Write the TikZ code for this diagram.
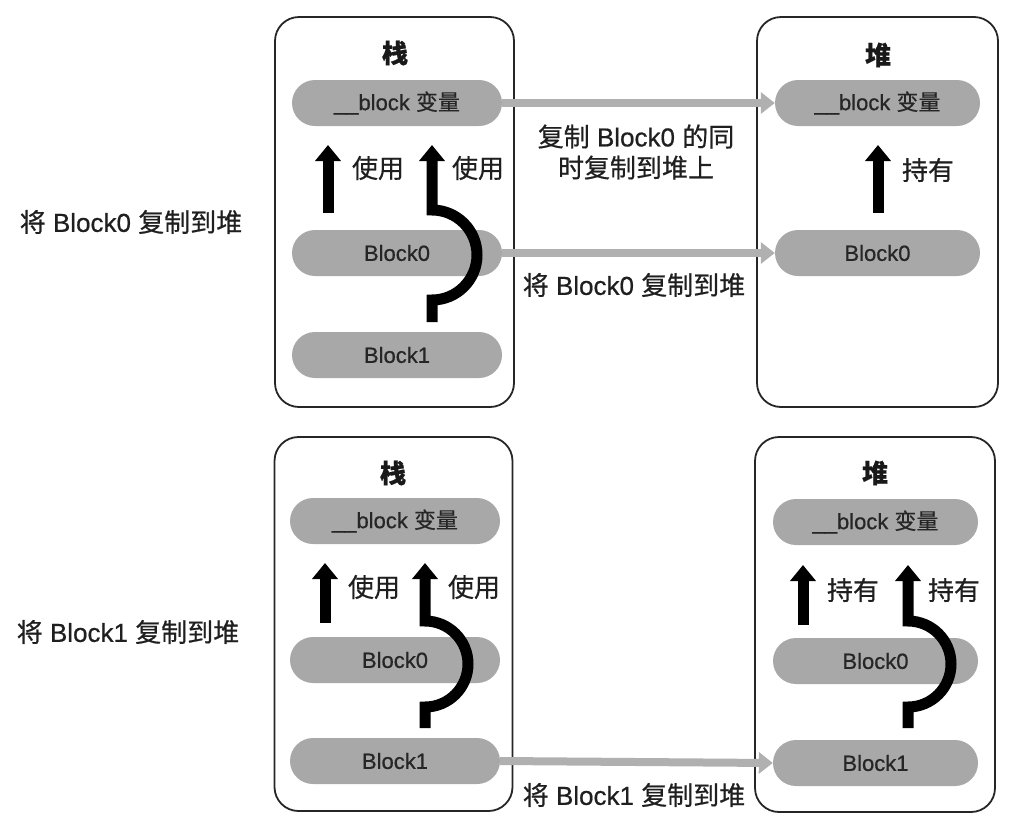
\documentclass[tikz,border=0pt]{standalone}
\usepackage{fontspec}
\setmainfont{Liberation Sans}[FakeBold=0.6]
\newfontfamily\cjk{Noto Sans CJK SC}[FakeBold=0.6]
\usetikzlibrary{arrows.meta}
\newcommand\zh[1]{{\cjk #1}}
\definecolor{pillgray}{RGB}{168,168,168}
\definecolor{arrowgray}{RGB}{176,176,176}
\begin{document}
\begin{tikzpicture}[x=1pt,y=-1pt,
  frame/.style={draw=black!85, line width=1.8pt, rounded corners=24pt, inner sep=0pt},
  pill/.style={fill=pillgray, rounded corners=23pt, minimum width=210pt, minimum height=46pt, inner sep=0pt, font=\fontsize{22}{26}\selectfont, text=black!85},
  ttl/.style={font=\fontsize{26}{30}\selectfont\cjk\bfseries, text=black!90, inner sep=0pt},
  lab/.style={font=\fontsize{26}{31}\selectfont, text=black!88, inner sep=0pt},
  grayarrow/.style={draw=arrowgray, line width=8pt, -{Triangle[width=21pt,length=14pt]}},
  blackarrow/.style={draw=black, line width=11pt, -{Triangle[width=25pt,length=16pt]}}
]
\useasboundingbox (0,0) rectangle (1026,836);

% ---------- top row ----------
\node[frame, minimum width=239pt, minimum height=390pt] (sf1) at (394.5,212) {};
\node[frame, minimum width=241pt, minimum height=390pt] (hf1) at (877.5,212) {};
\node[ttl] (st1) at (395,53) {栈};
\node[ttl] (ht1) at (878,55) {堆};

\node[pill] (s1v) at (397,103) {\_\_block \zh{变量}};
\node[pill] (s1b0) at (397,253) {Block0};
\node[pill] (s1b1) at (397,355) {Block1};
\node[pill, minimum width=205pt] (h1v) at (877.5,103) {\_\_block \zh{变量}};
\node[pill, minimum width=205pt] (h1b0) at (877.5,253) {Block0};

\draw[grayarrow] (s1v.east) -- (h1v.west);
\draw[grayarrow] (s1b0.east) -- (h1b0.west);

\coordinate (a1s) at (328,213); \coordinate (a1e) at (328,145);
\draw[blackarrow] (a1s) -- (a1e);
\coordinate (c1s) at (432,322); \coordinate (c1e) at (432,145);
\draw[blackarrow] (c1s) -- ++(0,-22) arc[start angle=90,end angle=-90,radius=45] -- (c1e);
\coordinate (h1s) at (878,213); \coordinate (h1e) at (878,145);
\draw[blackarrow] (h1s) -- (h1e);

\node[lab] (l1a) at (378,168) {\zh{使用}};
\node[lab] (l1b) at (478,168) {\zh{使用}};
\node[lab] (l1c) at (928,170) {\zh{持有}};
\node[lab, align=center] (m1) at (636,152) {\zh{复制} Block0 \zh{的同}\\\zh{时复制到堆上}};
\node[lab] (m2) at (634,285) {\zh{将} Block0 \zh{复制到堆}};
\node[lab] (left1) at (131,222) {\zh{将} Block0 \zh{复制到堆}};

% ---------- bottom row ----------
\node[frame, minimum width=238pt, minimum height=374pt] (sf2) at (393.5,624) {};
\node[frame, minimum width=240pt, minimum height=375pt] (hf2) at (875,624.5) {};
\node[ttl] (st2) at (393,473) {栈};
\node[ttl] (ht2) at (875,473) {堆};

\node[pill] (s2v) at (395,521) {\_\_block \zh{变量}};
\node[pill] (s2b0) at (395,660) {Block0};
\node[pill] (s2b1) at (395,761) {Block1};
\node[pill, minimum width=205pt] (h2v) at (875.5,522) {\_\_block \zh{变量}};
\node[pill, minimum width=205pt] (h2b0) at (875.5,661) {Block0};
\node[pill, minimum width=205pt] (h2b1) at (875.5,763) {Block1};

\draw[grayarrow] (s2b1.east) -- (h2b1.west);

\coordinate (a2s) at (325,623); \coordinate (a2e) at (325,563);
\draw[blackarrow] (a2s) -- (a2e);
\coordinate (c2s) at (425,728); \coordinate (c2e) at (425,563);
\draw[blackarrow] (c2s) -- ++(0,-21) arc[start angle=90,end angle=-90,radius=43] -- (c2e);
\coordinate (a3s) at (803,625); \coordinate (a3e) at (803,565);
\draw[blackarrow] (a3s) -- (a3e);
\coordinate (c3s) at (908,728); \coordinate (c3e) at (908,565);
\draw[blackarrow] (c3s) -- ++(0,-21) arc[start angle=90,end angle=-90,radius=43] -- (c3e);

\node[lab] (l2a) at (374,587) {\zh{使用}};
\node[lab] (l2b) at (474,587) {\zh{使用}};
\node[lab] (l2c) at (853,590) {\zh{持有}};
\node[lab] (l2d) at (954,590) {\zh{持有}};
\node[lab] (m3) at (634,795) {\zh{将} Block1 \zh{复制到堆}};
\node[lab] (left2) at (128,632) {\zh{将} Block1 \zh{复制到堆}};
\end{tikzpicture}
\end{document}
